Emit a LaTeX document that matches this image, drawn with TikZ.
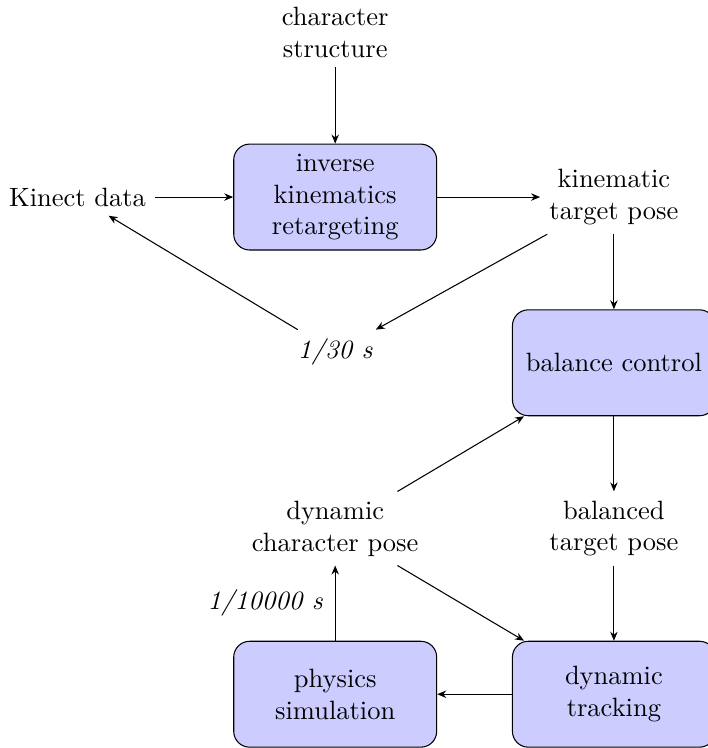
\documentclass[tikz,border=0pt]{standalone}
\usepackage{tikz}
\usetikzlibrary{arrows.meta,positioning}

\begin{document}
\begin{tikzpicture}[
    block/.style={draw, rounded corners=6pt, fill=blue!20, text width=7em,
                  align=center, minimum height=4em},
    plain/.style={align=center},
    rate/.style={font=\itshape},
    arr/.style={-{Stealth[length=3.4pt,width=2.8pt]}}
]
\useasboundingbox (-4.45,-7.314) rectangle (4.94,2.616);

\node[plain] (chr) at (0,2.18) {character\\structure};
\node[block] (ik) at (0,0) {inverse\\kinematics\\retargeting};
\node[plain] (kin) at (-3.42,0) {Kinect data};
\node[plain] (tgt) at (3.7,0) {kinematic\\target pose};
\node[rate] (fps) at (0,-2.06) {1/30 s};
\node[block] (bal) at (3.7,-2.2) {balance control};
\node[plain] (dpose) at (0,-4.4) {dynamic\\character pose};
\node[plain] (btgt) at (3.7,-4.4) {balanced\\target pose};
\node[block] (phys) at (0,-6.6) {physics\\simulation};
\node[block] (trk) at (3.7,-6.6) {dynamic\\tracking};

\draw[arr] (chr) -- (ik);
\draw[arr] (kin) -- (ik);
\draw[arr] (ik) -- (tgt);
\draw[arr] (tgt) -- (fps);
\draw[arr] (fps) -- (kin);
\draw[arr] (tgt) -- (bal);
\draw[arr] (bal) -- (btgt);
\draw[arr] (dpose) -- (bal);
\draw[arr] (dpose) -- (trk);
\draw[arr] (btgt) -- (trk);
\draw[arr] (trk) -- (phys);
\draw[arr] (phys) -- node[rate, left=1.2pt] {1/10000 s} (dpose);
\end{tikzpicture}
\end{document}
